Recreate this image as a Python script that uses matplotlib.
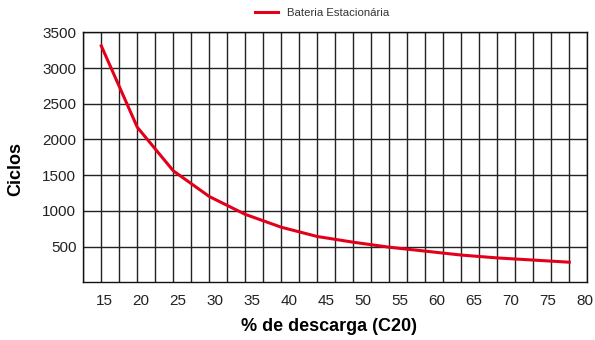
import numpy as np
import matplotlib
matplotlib.use('Agg')
import matplotlib.pyplot as plt

plt.rcParams['font.family'] = ['Liberation Sans', 'DejaVu Sans']

# Dados: % de descarga (C20) vs ciclos
descarga = [15, 20, 25, 30, 35, 40, 45, 50, 55, 60, 65, 70, 75, 80]
ciclos = [3310, 2170, 1560, 1200, 950, 770, 640, 560, 490, 435, 380, 340, 310, 280]
rotulos_x = [15, 20, 25, 30, 35, 40, 45, 50, 55, 60, 65, 70, 75, 80]
rotulos_y = [500, 1000, 1500, 2000, 2500, 3000, 3500]
serie = 'Bateria Estacionária'

fig = plt.figure(figsize=(5.95, 3.4), dpi=100)
ax = fig.add_axes([0.140, 0.170, 0.847, 0.735])

ax.plot(descarga, ciclos, color='#e2001a', lw=2.2, label=serie, zorder=3)

# Grade
ax.set_xlim(12.5, 82.5)
ax.set_ylim(0, 3500)
ax.set_xticks(np.arange(12.5, 82.6, 2.5))
ax.set_yticks(rotulos_y)
ax.grid(True, color='#222222', lw=1.0)
ax.tick_params(axis='x', labelbottom=False, length=0)
ax.tick_params(axis='y', length=0, pad=5, labelsize=11, labelcolor='#222222')
for s in ax.spines.values():
    s.set_color('#111111')
    s.set_linewidth(1.0)

# Rótulos do eixo x (levemente deslocados como no original)
k = 7.4 / 7.2
sec = ax.secondary_xaxis('bottom', functions=(lambda g: 15 + (g - 15.375) / k,
                                              lambda l: 15.375 + (l - 15) * k))
sec.set_xticks(rotulos_x)
sec.tick_params(length=0, pad=8.5, labelsize=11, labelcolor='#222222')
sec.spines['bottom'].set_visible(False)

ax.set_xlabel('% de descarga (C20)', fontsize=13, fontweight='bold')
ax.xaxis.set_label_coords(0.4875, -0.145)
ax.set_ylabel('Ciclos', fontsize=13, fontweight='bold')
ax.yaxis.set_label_coords(-0.118, 0.453)

ax.legend(loc='center', bbox_to_anchor=(0.474, 1.077), frameon=False,
          fontsize=8.2, handlelength=2, handletextpad=0.8, borderpad=0,
          labelcolor='#333333')

fig.savefig('out.png', dpi=100)
